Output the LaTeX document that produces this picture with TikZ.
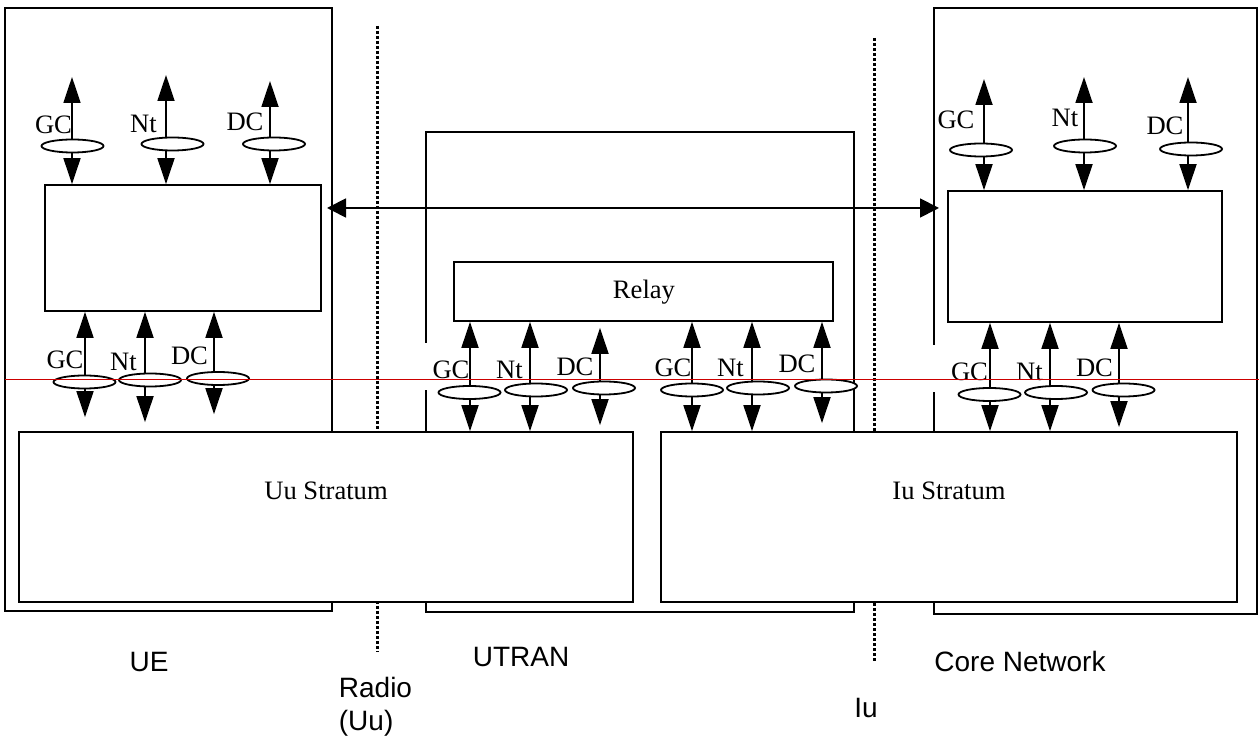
\documentclass[tikz,border=0pt]{standalone}
\usepackage{fontspec}
\setmainfont{Liberation Serif}
\setsansfont{Liberation Sans}
\usetikzlibrary{arrows.meta,fit,shapes.geometric}
\definecolor{guide}{RGB}{204,0,0}
\begin{document}
\begin{tikzpicture}[
  x=0.5pt, y=-0.5pt,
  line width=0.9pt,
  every node/.style={font=\fontsize{13.3}{15}\selectfont},
  box/.style={draw, fill=white, inner sep=0pt},
  ell/.style={draw, ellipse, fill=white, minimum width=31pt, minimum height=6.5pt, inner sep=0pt},
  tag/.style={inner sep=0pt, anchor=base},
  sap/.style={{Triangle[length=13pt,width=8.5pt]}-{Triangle[length=13pt,width=8.5pt]}},
  peer/.style={{Triangle[length=9.5pt,width=9.5pt]}-{Triangle[length=9.5pt,width=9.5pt]}},
  iface/.style={line width=1.5pt, dash pattern=on 1.5pt off 1pt},
  zonename/.style={font=\sffamily\fontsize{14}{16.5}\selectfont, inner sep=0pt}
]
  \useasboundingbox (0,0) rectangle (1259,742);

  % domains
  \draw (5,8) rectangle (332,611);
  \draw (426,343) -- (426,132) -- (854,132) -- (854,612) -- (426,612) -- (426,390);
  \draw (934,345) -- (934,8) -- (1257,8) -- (1257,614) -- (934,614) -- (934,392);

  % reference points
  \draw[iface] (377,26) -- (377,652);
  \draw[iface] (874,38) -- (874,663);

  % entities
  \node[box, fit={(45,185) (321,311)}] (ueCtl) {};
  \node[box, fit={(948,191) (1222,322)}] (cnCtl) {};
  \node[box, fit={(454,262) (833,321)}] (relay) {};
  \node[box, fit={(19,432) (633,602)}] (uuStr) {};
  \node[box, fit={(661,432) (1237,602)}] (iuStr) {};
  \node[tag] (relayTxt) at (644,299) {Relay};
  \node[tag] (uuTxt) at (326,500) {Uu Stratum};
  \node[tag] (iuTxt) at (949,500) {Iu Stratum};

  % peer link UE -- CN
  \coordinate (peerL) at (327,208);
  \coordinate (peerR) at (939,208);
  \draw[peer] (peerL) -- (peerR);

  % UE, upper access points
  \coordinate (ueGC) at (72,77);
  \coordinate (ueNt) at (166,75);
  \coordinate (ueDC) at (270,81);
  \draw[sap] (ueCtl.north -| ueGC) -- (ueGC);
  \draw[sap] (ueCtl.north -| ueNt) -- (ueNt);
  \draw[sap] (ueCtl.north -| ueDC) -- (ueDC);
  \node[ell] (ueGCsap) at (72.5,146) {};
  \node[ell] (ueNtsap) at (172.5,144) {};
  \node[ell] (ueDCsap) at (274,144) {};
  \node[tag] (ueGClab) at (53.5,134) {GC};
  \node[tag] (ueNtlab) at (143.5,133) {Nt};
  \node[tag] (ueDClab) at (245,131) {DC};

  % UE, lower access points
  \coordinate (uuGC) at (85,382);
  \coordinate (uuNt) at (145,380);
  \coordinate (uuDC) at (214,378);
  \draw[sap, shorten >=7pt] (ueCtl.south -| uuGC) -- (uuStr.north -| uuGC);
  \draw[sap, shorten >=4.5pt] (ueCtl.south -| uuNt) -- (uuStr.north -| uuNt);
  \draw[sap, shorten >=8.5pt] (ueCtl.south -| uuDC) -- (uuStr.north -| uuDC);
  \node[ell] (uuGCsap) at (84.5,382) {};
  \node[ell] (uuNtsap) at (150,380) {};
  \node[ell] (uuDCsap) at (218,378.5) {};
  \node[tag] (uuGClab) at (65,369) {GC};
  \node[tag] (uuNtlab) at (123.5,371) {Nt};
  \node[tag] (uuDClab) at (189.5,365) {DC};

  % relay, Uu side
  \coordinate (rlGC) at (470,392);
  \coordinate (rlNt) at (530,390);
  \coordinate (rlDC) at (600,388);
  \draw[sap] (relay.south -| rlGC) -- (uuStr.north -| rlGC);
  \draw[sap] (relay.south -| rlNt) -- (uuStr.north -| rlNt);
  \draw[sap, shorten <=3pt, shorten >=3pt] (relay.south -| rlDC) -- (uuStr.north -| rlDC);
  \node[ell] (rlGCsap) at (469.5,392.5) {};
  \node[ell] (rlNtsap) at (536,390) {};
  \node[ell] (rlDCsap) at (604,388) {};
  \node[tag] (rlGClab) at (451,379) {GC};
  \node[tag] (rlNtlab) at (509.5,379) {Nt};
  \node[tag] (rlDClab) at (575,376) {DC};

  % relay, Iu side
  \coordinate (riGC) at (692,390);
  \coordinate (riNt) at (752,388);
  \coordinate (riDC) at (822,386);
  \draw[sap] (relay.south -| riGC) -- (iuStr.north -| riGC);
  \draw[sap] (relay.south -| riNt) -- (iuStr.north -| riNt);
  \draw[sap, shorten >=4pt] (relay.south -| riDC) -- (iuStr.north -| riDC);
  \node[ell] (riGCsap) at (692,390) {};
  \node[ell] (riNtsap) at (758,388) {};
  \node[ell] (riDCsap) at (826,386) {};
  \node[tag] (riGClab) at (673,377) {GC};
  \node[tag] (riNtlab) at (730.5,377) {Nt};
  \node[tag] (riDClab) at (797,373) {DC};

  % CN, upper access points
  \coordinate (cnGC) at (984,79);
  \coordinate (cnNt) at (1084,77);
  \coordinate (cnDC) at (1188,77);
  \draw[sap] (cnCtl.north -| cnGC) -- (cnGC);
  \draw[sap] (cnCtl.north -| cnNt) -- (cnNt);
  \draw[sap] (cnCtl.north -| cnDC) -- (cnDC);
  \node[ell] (cnGCsap) at (981,150) {};
  \node[ell] (cnNtsap) at (1085,146) {};
  \node[ell] (cnDCsap) at (1191,149) {};
  \node[tag] (cnGClab) at (956,129) {GC};
  \node[tag] (cnNtlab) at (1065,127) {Nt};
  \node[tag] (cnDClab) at (1165,135) {DC};

  % CN, lower access points
  \coordinate (iuGC) at (990,394);
  \coordinate (iuNt) at (1050,392);
  \coordinate (iuDC) at (1119,390);
  \draw[sap] (cnCtl.south -| iuGC) -- (iuStr.north -| iuGC);
  \draw[sap] (cnCtl.south -| iuNt) -- (iuStr.north -| iuNt);
  \draw[sap, shorten >=2pt] (cnCtl.south -| iuDC) -- (iuStr.north -| iuDC);
  \node[ell] (iuGCsap) at (989.5,394.5) {};
  \node[ell] (iuNtsap) at (1056,392.5) {};
  \node[ell] (iuDCsap) at (1123.5,390) {};
  \node[tag] (iuGClab) at (969.5,381) {GC};
  \node[tag] (iuNtlab) at (1029.5,381) {Nt};
  \node[tag] (iuDClab) at (1094.5,377) {DC};

  % domain and interface names
  \node[zonename, anchor=base] (ueName) at (149,672) {UE};
  \node[zonename, anchor=base] (utranName) at (521,667) {UTRAN};
  \node[zonename, anchor=base] (cnName) at (1020,672) {Core Network};
  \node[zonename, anchor=north west, align=left] (uuName) at (338,676) {Radio\\(Uu)};
  \node[zonename, anchor=base] (iuName) at (866,718) {Iu};

  \draw[guide, line width=0.5pt] (5,379.5) -- (1259,379.5);
\end{tikzpicture}
\end{document}
